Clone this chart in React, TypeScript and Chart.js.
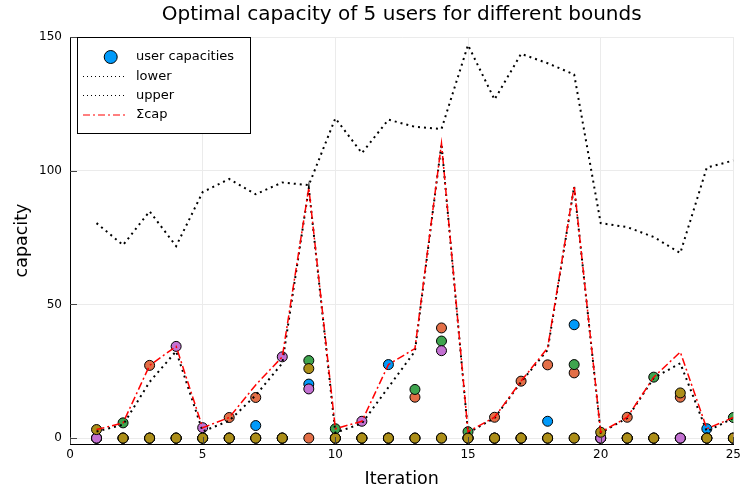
import React, { useEffect, useRef } from "react";
import { Chart, registerables } from "chart.js";

Chart.register(...registerables);

const iterations = [1, 2, 3, 4, 5, 6, 7, 8, 9, 10, 11, 12, 13, 14, 15, 16, 17, 18, 19, 20, 21, 22, 23, 24, 25];

// user capacities (5 users)
const userBlue = [0, 0, 0, 0, 0, 0, 4.7, 0, 20.2, 0, 0, 27.5, 0, 0, 0, 0, 0, 6.3, 42.4, 0, 0, 0, 0, 3.5, 0];
const userOrange = [0, 0, 27.2, 0, 0, 7.7, 15.2, 0, 0, 0, 0, 0, 15.3, 41.2, 0, 7.8, 21.3, 27.4, 24.4, 0, 7.8, 0, 15.3, 0, 0];
const userGreen = [0, 5.7, 0, 0, 0, 0, 0, 0, 29.0, 3.5, 0, 0, 18.2, 36.3, 2.4, 0, 0, 0, 27.5, 0, 0, 22.8, 0, 0, 7.7];
const userPurple = [0, 0, 0, 34.3, 3.9, 0, 0, 30.4, 18.4, 0, 6.3, 0, 0, 32.7, 0, 0, 0, 0, 0, 0, 0, 0, 0, 0, 0];
const userOlive = [3.2, 0, 0, 0, 0, 0, 0, 0, 26.0, 0, 0, 0, 0, 0, 0, 0, 0, 0, 0, 2.2, 0, 0, 16.9, 0, 0];

const lowerBound = [2.5, 5.0, 21.0, 32.5, 2.5, 6.5, 16.0, 28.0, 93.5, 2.0, 5.5, 19.0, 32.5, 110.0, 2.0, 7.5, 21.0, 33.0, 94.0, 2.0, 7.5, 22.5, 28.0, 2.5, 7.5];
const upperBound = [80.4, 72.2, 84.8, 71.8, 92.0, 96.9, 91.2, 95.6, 94.6, 119.6, 106.6, 119.1, 116.4, 115.6, 147.0, 126.6, 143.7, 140.2, 136.0, 80.4, 78.9, 75.2, 69.2, 101.2, 103.8];
const sumCap = [3.2, 5.7, 27.2, 34.3, 3.9, 7.7, 19.9, 30.4, 93.6, 3.5, 6.3, 27.5, 33.5, 110.2, 2.4, 7.8, 21.3, 33.7, 94.3, 2.2, 7.8, 22.8, 32.2, 3.5, 7.7];

const xTicks = [0, 5, 10, 15, 20, 25];
const yTicks = [0, 50, 100, 150];

const titleText = "Optimal capacity of 5 users for different bounds";
const xLabel = "Iteration";
const yLabel = "capacity";
const legendLabels = ["user capacities", "lower", "upper", "Σcap"];

const FONT = "DejaVu Sans";
const userColors = ["#009AFA", "#E36F47", "#3EA44E", "#C371D2", "#AC8E18"];

const toPoints = (ys: number[]) => iterations.map((x, i) => ({ x, y: ys[i] }));

const decorPlugin = {
  id: "decor",
  afterDraw(chart: any) {
    const ctx = chart.ctx as CanvasRenderingContext2D;
    const area = chart.chartArea;
    const xs = chart.scales.x;
    const ys = chart.scales.y;
    ctx.save();
    // inward ticks
    ctx.strokeStyle = "#444";
    ctx.lineWidth = 1;
    yTicks.forEach((v) => {
      const y = Math.round(ys.getPixelForValue(v)) + 0.5;
      ctx.beginPath();
      ctx.moveTo(area.left, y);
      ctx.lineTo(area.left + 7, y);
      ctx.stroke();
    });
    xTicks.forEach((v) => {
      const x = Math.round(xs.getPixelForValue(v)) + 0.5;
      ctx.beginPath();
      ctx.moveTo(x, area.bottom);
      ctx.lineTo(x, area.bottom - 7);
      ctx.stroke();
    });
    // title
    ctx.fillStyle = "#000";
    ctx.textAlign = "center";
    ctx.textBaseline = "middle";
    ctx.font = `20px "${FONT}"`;
    ctx.fillText(titleText, (area.left + area.right) / 2, 15);
    // axis labels
    ctx.font = `17.5px "${FONT}"`;
    ctx.fillText(xLabel, (area.left + area.right) / 2, 479);
    ctx.save();
    ctx.translate(22, (area.top + area.bottom) / 2);
    ctx.rotate(-Math.PI / 2);
    ctx.fillText(yLabel, 0, 0);
    ctx.restore();
    // legend
    const bx = 77.5, by = 37.5, bw = 173, bh = 96;
    ctx.fillStyle = "#fff";
    ctx.fillRect(bx, by, bw, bh);
    ctx.strokeStyle = "#000";
    ctx.lineWidth = 1;
    ctx.strokeRect(bx, by, bw, bh);
    const rows = [57, 76.5, 95.5, 115];
    ctx.font = `13px "${FONT}"`;
    ctx.textAlign = "left";
    ctx.fillStyle = "#000";
    legendLabels.forEach((lab, i) => {
      const y = rows[i];
      if (i === 0) {
        ctx.beginPath();
        ctx.arc(110.7, y, 6.5, 0, Math.PI * 2);
        ctx.fillStyle = userColors[0];
        ctx.fill();
        ctx.strokeStyle = "#000";
        ctx.lineWidth = 1;
        ctx.stroke();
      } else {
        ctx.beginPath();
        ctx.moveTo(83, y);
        ctx.lineTo(127, y);
        if (i === 3) {
          ctx.strokeStyle = "#FF0000";
          ctx.setLineDash([7, 3, 2, 3]);
          ctx.lineWidth = 1.2;
        } else {
          ctx.strokeStyle = "#000";
          ctx.setLineDash([1, 3]);
          ctx.lineWidth = 1;
        }
        ctx.stroke();
        ctx.setLineDash([]);
      }
      ctx.fillStyle = "#000";
      ctx.fillText(lab, 136, y);
    });
    ctx.restore();
  },
};

export default function App() {
  const ref = useRef<HTMLCanvasElement | null>(null);
  useEffect(() => {
    document.body.style.margin = "0";
    const canvas = ref.current;
    if (!canvas) return;
    const userSeries = [userBlue, userOrange, userGreen, userPurple, userOlive];
    const scatterSets = userSeries.map((s, i) => ({
      type: "scatter" as const,
      label: i === 0 ? legendLabels[0] : "",
      data: toPoints(s),
      pointRadius: 5,
      pointBackgroundColor: userColors[i],
      pointBorderColor: "#000",
      pointBorderWidth: 1,
      showLine: false,
      order: 7 - i,
    }));
    const chart = new Chart(canvas, {
      type: "scatter",
      data: {
        datasets: [
          {
            type: "line",
            label: legendLabels[3],
            data: toPoints(sumCap),
            borderColor: "#FF0000",
            borderWidth: 1.5,
            borderDash: [8, 3, 2, 3],
            pointRadius: 0,
            fill: false,
            tension: 0,
            order: 0,
          },
          {
            type: "line",
            label: legendLabels[2],
            data: toPoints(upperBound),
            borderColor: "#000",
            borderWidth: 2,
            borderDash: [2, 4],
            pointRadius: 0,
            fill: false,
            tension: 0,
            order: 1,
          },
          {
            type: "line",
            label: legendLabels[1],
            data: toPoints(lowerBound),
            borderColor: "#000",
            borderWidth: 2,
            borderDash: [2, 4],
            pointRadius: 0,
            fill: false,
            tension: 0,
            order: 2,
          },
          ...scatterSets,
        ] as any,
      },
      options: {
        animation: false,
        responsive: false,
        maintainAspectRatio: false,
        layout: { padding: { top: 37, right: 8, left: 0, bottom: 0 } },
        plugins: {
          legend: { display: false },
          title: { display: false },
          tooltip: { enabled: false },
        },
        scales: {
          x: {
            type: "linear",
            min: 0,
            max: 25,
            afterBuildTicks: (s: any) => {
              s.ticks = xTicks.map((v) => ({ value: v }));
            },
            afterFit: (s: any) => {
              s.height = 48;
            },
            grid: {
              color: (c: any) => (c.tick && c.tick.value === 0 ? "rgba(0,0,0,0)" : "#ebebeb"),
              drawTicks: false,
              lineWidth: 1,
            },
            border: { color: "#000", width: 1 },
            ticks: {
              color: "#000",
              font: { family: FONT, size: 12 },
              padding: 4,
              maxRotation: 0,
              autoSkip: false,
              callback: (v: any) => String(v),
            },
          },
          y: {
            type: "linear",
            min: -2.2,
            max: 150,
            afterBuildTicks: (s: any) => {
              s.ticks = yTicks.map((v) => ({ value: v }));
            },
            afterFit: (s: any) => {
              s.width = 70;
            },
            grid: {
              color: "#ebebeb",
              drawTicks: false,
              lineWidth: 1,
            },
            border: { color: "#000", width: 1 },
            ticks: {
              color: "#000",
              font: { family: FONT, size: 12 },
              padding: 8,
              autoSkip: false,
              callback: (v: any) => String(v),
            },
          },
        },
      },
      plugins: [decorPlugin],
    });
    return () => chart.destroy();
  }, []);
  return (
    <canvas
      ref={ref}
      width={745}
      height={492}
      style={{ display: "block", width: 745, height: 492 }}
    />
  );
}
